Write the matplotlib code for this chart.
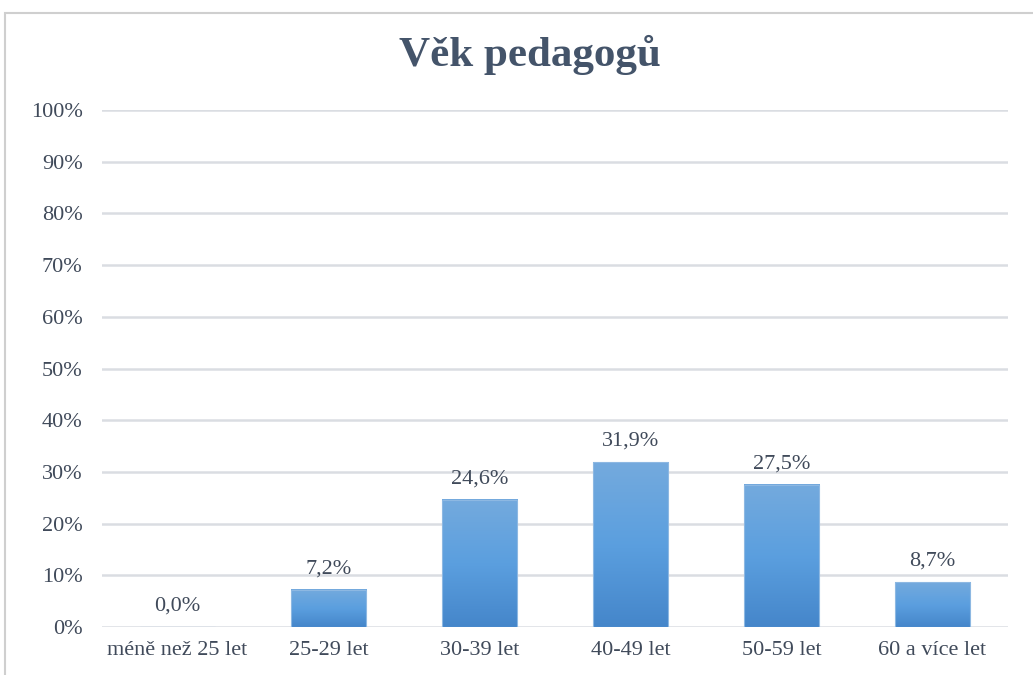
import matplotlib
matplotlib.use("Agg")
import matplotlib.pyplot as plt
import numpy as np
from matplotlib.colors import LinearSegmentedColormap
from matplotlib.patches import Rectangle

categories = ["méně než 25 let", "25-29 let", "30-39 let", "40-49 let", "50-59 let", "60 a více let"]
values = [0.0, 7.2, 24.6, 31.9, 27.5, 8.7]
yticks = [0, 10, 20, 30, 40, 50, 60, 70, 80, 90, 100]
title = "Věk pedagogů"

plt.rcParams['font.family'] = ['Liberation Serif', 'DejaVu Serif']
text_color = "#404A5A"

fig = plt.figure(figsize=(10.33, 6.75), dpi=100)
# chart frame
fig.patches.append(Rectangle((5/1033, -0.01), 1.05, (675-13)/675 + 0.01, transform=fig.transFigure,
                             fill=False, edgecolor="#CFCFCF", linewidth=1.5))
ax = fig.add_axes([102/1033, 48/675, 906/1033, (627-110)/675])

x = np.arange(len(categories))
bars = ax.bar(x, values, width=0.5, color="none", edgecolor="#8DB8E2", linewidth=0.8, zorder=3)
cmap = LinearSegmentedColormap.from_list("g", ["#4586CA", "#5B9FDF", "#74AADD"])
grad = np.linspace(0, 1, 256).reshape(-1, 1)
for b in bars:
    h = b.get_height()
    if h <= 0:
        continue
    x0 = b.get_x(); w = b.get_width()
    ax.imshow(grad, extent=(x0, x0 + w, 0, h), origin="lower", cmap=cmap,
              aspect="auto", zorder=2.5, interpolation="bilinear")

for xi, v in zip(x, values):
    ax.annotate(f"{v:.1f}%".replace(".", ","), (xi, v), xytext=(0, 8), textcoords="offset points",
                ha="center", va="bottom", fontsize=16, color=text_color)

ax.set_xlim(-0.5, len(categories) - 0.5)
ax.set_ylim(0, 100)
ax.set_yticks(yticks)
ax.set_yticklabels([f"{t}%" for t in yticks])
ax.set_xticks(x)
ax.set_xticklabels(categories)
ax.tick_params(axis="y", length=0, pad=14, labelsize=16, labelcolor=text_color)
ax.tick_params(axis="x", length=0, pad=10, labelsize=16, labelcolor=text_color)
ax.grid(axis="y", color="#DADDE2", linewidth=1.8, zorder=0)
ax.set_axisbelow(True)
for s in ax.spines.values():
    s.set_visible(False)

fig.text(530/1033, 1 - 55/675, title, ha="center", va="center", fontsize=31,
         fontweight="bold", color="#44546A")

fig.savefig("out.png", dpi=100)
